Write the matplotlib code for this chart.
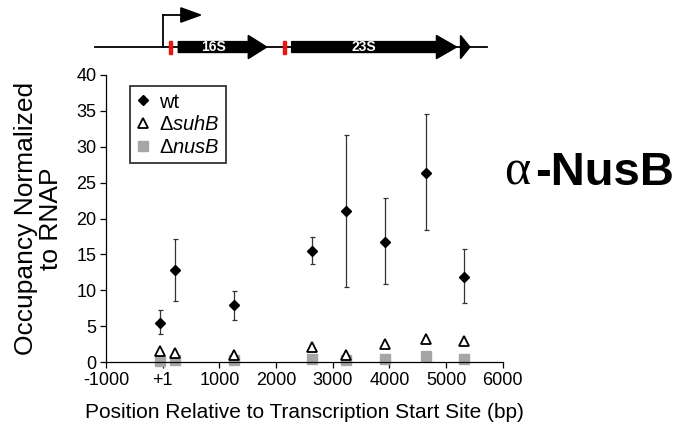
import matplotlib.pyplot as plt
from matplotlib.patches import Rectangle
from matplotlib.lines import Line2D

plt.rcParams['font.family'] = ['Liberation Sans', 'DejaVu Sans']
plt.rcParams['mathtext.fontset'] = 'custom'
plt.rcParams['mathtext.rm'] = 'Liberation Sans'
plt.rcParams['mathtext.it'] = 'Liberation Sans:italic'

# positions relative to transcription start site (bp)
positions = [-50, 220, 1250, 2630, 3230, 3930, 4650, 5320]

# wild type occupancy with error bars
wt = [5.5, 12.8, 7.9, 15.5, 21.0, 16.8, 26.4, 11.9]
wt_upper = [7.2, 17.2, 9.9, 17.4, 31.6, 22.9, 34.6, 15.7]
wt_lower = [3.9, 8.5, 5.9, 13.6, 10.4, 10.9, 18.4, 8.2]

# mutants
suhB = [1.6, 1.3, 1.0, 2.1, 1.0, 2.5, 3.2, 2.9]
nusB = [0.2, 0.3, 0.3, 0.5, 0.3, 0.4, 0.9, 0.5]

xticks = [-1000, 0, 1000, 2000, 3000, 4000, 5000, 6000]
xticklabels = ['-1000', '+1', '1000', '2000', '3000', '4000', '5000', '6000']
yticks = [0, 5, 10, 15, 20, 25, 30, 35, 40]

# operon schematic (bp coordinates)
operon_span = (-1190, 5720)
promoter = 0
red_marks = [140, 2145]
genes = [('16S', 275, 1510, 1835), ('23S', 2275, 4830, 5185)]
small_arrow = (5255, 5420)

fig = plt.figure(figsize=(6.84, 4.26), dpi=100)
ax = fig.add_axes([0.155, 0.150, 0.580, 0.674])

err_low = [w - l for w, l in zip(wt, wt_lower)]
err_high = [u - w for w, u in zip(wt, wt_upper)]
ax.errorbar(positions, wt, yerr=[err_low, err_high], fmt='none',
            ecolor='#333333', elinewidth=0.9, capsize=1.8, capthick=0.9, zorder=2)
ax.plot(positions, wt, 'D', color='black', markersize=5.5, zorder=3)
ax.plot(positions, suhB, '^', markerfacecolor='white', markeredgecolor='black',
        markeredgewidth=1.3, markersize=7, zorder=3)
ax.plot(positions, nusB, 's', color='#a6a6a6', markersize=6.5, zorder=2.5,
        clip_on=False)

ax.set_xlim(-1000, 6000)
ax.set_ylim(0, 40)
ax.set_xticks(xticks)
ax.set_xticklabels(xticklabels)
ax.set_yticks(yticks)
ax.tick_params(labelsize=13, direction='out', length=4, width=0.9, colors='black', pad=3)
for s in ['top', 'right']:
    ax.spines[s].set_visible(False)
for s in ['left', 'bottom']:
    ax.spines[s].set_linewidth(0.9)

ax.set_xlabel('Position Relative to Transcription Start Site (bp)', fontsize=15, labelpad=10)
ax.set_ylabel('Occupancy Normalized\nto RNAP', fontsize=19, linespacing=1.05)
ax.yaxis.set_label_coords(-0.108, 0.5)

handles = [
    Line2D([], [], linestyle='none', marker='D', color='black', markersize=5.5),
    Line2D([], [], linestyle='none', marker='^', markerfacecolor='white',
           markeredgecolor='black', markeredgewidth=1.3, markersize=7),
    Line2D([], [], linestyle='none', marker='s', color='#a6a6a6', markersize=6.5),
]
labels = ['wt', r'$\Delta$$\it{suhB}$', r'$\Delta$$\it{nusB}$']
leg = ax.legend(handles, labels, loc='upper left', bbox_to_anchor=(0.06, 0.96),
                fontsize=14.5, frameon=True, fancybox=False, handlelength=0.7,
                handletextpad=0.45, borderpad=0.3, labelspacing=0.18,
                borderaxespad=0)
leg.get_frame().set_edgecolor('black')
leg.get_frame().set_linewidth(1.3)

fig.text(504 / 684, 1 - 185 / 426, '\u03b1', fontsize=36, family='Liberation Serif',
         ha='left', va='baseline')
fig.text(535 / 684, 1 - 185 / 426, '-NusB', fontsize=34, fontweight='bold',
         ha='left', va='baseline')

# schematic axes sharing bp coordinates with the plot
sx = fig.add_axes([0.155, 0.84, 0.580, 0.16])
sx.set_xlim(-1000, 6000)
sx.set_ylim(0, 10)
sx.axis('off')
line_y = 3.1
body_h = 0.8
head_h = 1.7
sx.plot(operon_span, [line_y, line_y], color='black', lw=1.3, clip_on=False)
sx.plot([promoter, promoter], [line_y, 7.8], color='black', lw=1.3)
sx.plot([promoter, 320], [7.8, 7.8], color='black', lw=1.3)
sx.fill([320, 670, 320], [8.85, 7.8, 6.75], color='black')
for r in red_marks:
    sx.add_patch(Rectangle((r - 28, line_y - 0.95), 56, 1.9, color='#ee1111', zorder=3))
for name, start, body_end, tip in genes:
    sx.fill([start, body_end, body_end, tip, body_end, body_end, start],
            [line_y + body_h, line_y + body_h, line_y + head_h, line_y,
             line_y - head_h, line_y - body_h, line_y - body_h],
            color='black', zorder=2)
    sx.text((start + body_end) / 2, line_y, name, color='white', fontsize=10,
            fontweight='bold', ha='center', va='center', zorder=4)
sa0, sa1 = small_arrow
sx.fill([sa0, sa1, sa0], [line_y + head_h, line_y, line_y - head_h], color='black', zorder=2)

plt.savefig('out.png', dpi=100)
